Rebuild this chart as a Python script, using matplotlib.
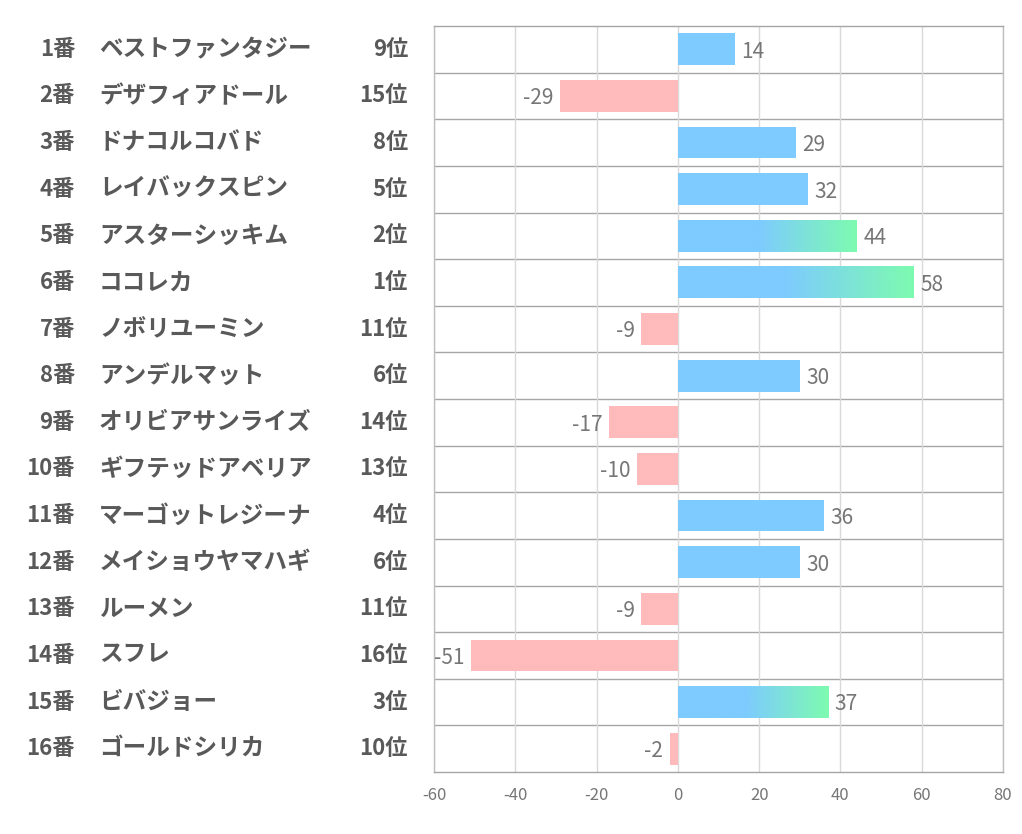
import numpy as np
import matplotlib.pyplot as plt
from matplotlib.colors import LinearSegmentedColormap
from matplotlib.transforms import blended_transform_factory

plt.rcParams['font.family'] = ['Noto Sans CJK JP', 'DejaVu Sans']
plt.rcParams['axes.unicode_minus'] = False

# ============================
#  Data
# ============================
numbers = [f"{i}番" for i in range(1, 17)]
names = [
    "ベストファンタジー", "デザフィアドール", "ドナコルコバド", "レイバックスピン",
    "アスターシッキム", "ココレカ", "ノボリユーミン", "アンデルマット",
    "オリビアサンライズ", "ギフテッドアベリア", "マーゴットレジーナ", "メイショウヤマハギ",
    "ルーメン", "スフレ", "ビバジョー", "ゴールドシリカ",
]
ranks = [9, 15, 8, 5, 2, 1, 11, 6, 14, 13, 4, 6, 11, 16, 3, 10]
values = [14, -29, 29, 32, 44, 58, -9, 30, -17, -10, 36, 30, -9, -51, 37, -2]

blue = "#7DCBFF"
green = "#7DFBB0"
pink = "#FFBBBB"
text_col = "#595959"
val_col = "#767676"

fig = plt.figure(figsize=(10.22, 8.34), dpi=100)
ax = fig.add_axes([434 / 1022, 62 / 834, 569 / 1022, 746 / 834])

n = len(values)
ypos = np.arange(n)
bar_h = 0.68

grad_cmap = LinearSegmentedColormap.from_list(
    "bg", [(0.0, blue), (0.45, blue), (1.0, green)])
grad = np.linspace(0, 1, 256).reshape(1, -1)

for y, v, r in zip(ypos, values, ranks):
    if v >= 0 and r <= 3:
        ax.imshow(grad, cmap=grad_cmap, aspect="auto",
                  extent=[0, v, y + bar_h / 2, y - bar_h / 2], zorder=3)
    else:
        ax.barh(y, v, height=bar_h, color=blue if v >= 0 else pink,
                zorder=3)
    if v >= 0:
        ax.text(v + 1.6, y + 0.05, str(v), ha="left", va="center",
                fontsize=15, color=val_col, zorder=4)
    else:
        ax.text(v - 1.6, y + 0.05, str(v), ha="right", va="center",
                fontsize=15, color=val_col, zorder=4, clip_on=False)

ax.set_xlim(-60, 80)
ax.set_ylim(n - 0.5, -0.5)
ax.set_xticks(range(-60, 81, 20))
ax.set_yticks([])
ax.tick_params(axis="x", length=0, labelsize=12, colors=val_col, pad=11)
ax.grid(axis="x", color="#D9D9D9", linewidth=1, zorder=0)
for b in np.arange(0.5, n - 0.5, 1):
    ax.axhline(b, color="#A6A6A6", linewidth=1, zorder=1)
for s in ax.spines.values():
    s.set_color("#A6A6A6")
    s.set_linewidth(1)
ax.spines["left"].set_color("#BFBFBF")
ax.spines["right"].set_color("#BFBFBF")

# left-side labels
tr = blended_transform_factory(fig.transFigure, ax.transData)
for y, num, name, r in zip(ypos, numbers, names, ranks):
    ax.text(75 / 1022, y, num, transform=tr, ha="right", va="center",
            fontsize=16, fontweight="bold", color=text_col, clip_on=False)
    ax.text(99 / 1022, y, name, transform=tr, ha="left", va="center",
            fontsize=17, fontweight="bold", color=text_col, clip_on=False)
    ax.text(408 / 1022, y, f"{r}位", transform=tr, ha="right", va="center",
            fontsize=16, fontweight="bold", color=text_col, clip_on=False)

fig.savefig("out.png", dpi=100, facecolor="white")
